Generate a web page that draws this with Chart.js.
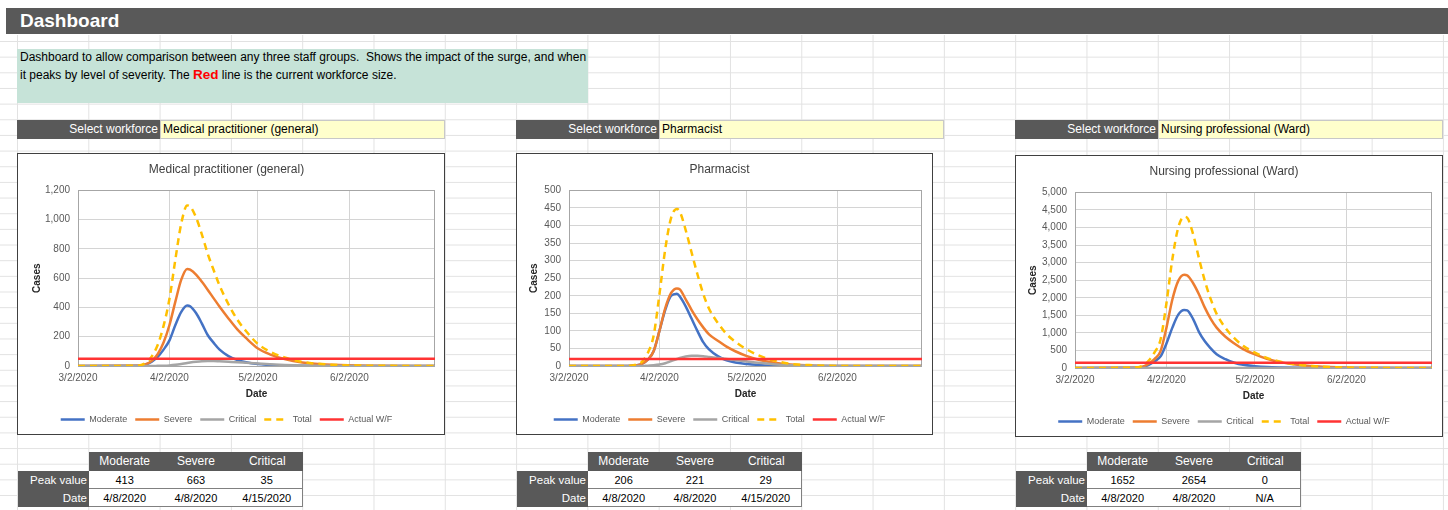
<!DOCTYPE html>
<html>
<head>
<meta charset="utf-8">
<script src="https://cdn.jsdelivr.net/npm/chart.js@4.4.1/dist/chart.umd.min.js"></script>
<style>
body { margin: 0; width: 1448px; height: 510px; overflow: hidden; background: #fff; position: relative;
       font-family: 'Liberation Sans', Arial, sans-serif; }
.sheet { position: absolute; left: 0; top: 35px; width: 1448px; height: 475px;
         background-image: linear-gradient(to right, #e2e2e2 1px, transparent 1px),
                           linear-gradient(to bottom, #e2e2e2 1px, transparent 1px);
         background-size: 71.3px 15.67px; background-position: 17px 6px; }
.header { position: absolute; left: 6px; top: 8px; width: 1442px; height: 26px; background: #595959;
          color: #fff; font-weight: bold; font-size: 19px; line-height: 26px; padding-left: 14px; box-sizing: border-box; }
.info { position: absolute; left: 17px; top: 49px; width: 571px; height: 54px; background: #c6e3d8;
        font-size: 12px; line-height: 17px; padding-left: 3px; box-sizing: border-box; color: #000; }
.info b { color: #ff0000; font-size: 13.5px; }
.sel { position: absolute; height: 19px; line-height: 19px; font-size: 12px; box-sizing: border-box; }
.sel.dark { width: 143px; background: #595959; color: #fff; text-align: right; padding-right: 2px; }
.sel.yellow { width: 285px; background: #ffffcc; border: 1px solid #c8c8c8; color: #000; padding-left: 2px; line-height: 17px; }
.box { position: absolute; border: 1px solid #404040; background: #fff; box-sizing: border-box; }
.box canvas { position: absolute; left: 0; top: 0; }
.cell { position: absolute; box-sizing: border-box; font-size: 11px; text-align: center; height: 18px; line-height: 18px; }
.cell.hd { background: #595959; color: #fff; font-size: 12px; height: 19px; line-height: 19px; }
.cell.lbl { background: #595959; color: #fff; text-align: right; padding-right: 2px; font-size: 11.5px; }
.cell.val { background: #fff; border-bottom: 1px solid #808080; color: #000; }
.cell.val.last { border-right: 1px solid #808080; }
</style>
</head>
<body>
<div class="sheet"></div>
<div class="header">Dashboard</div>
<div class="info">Dashboard to allow comparison between any three staff groups.&nbsp; Shows the impact of the surge, and when<br>it peaks by level of severity. The <b>Red</b> line is the current workforce size.</div>
<div id="panels"></div>

<script>
// sample days, counted from 3/2/2020
const days = [0, 20, 23, 25, 27, 29, 31, 33, 35, 37, 38, 40, 42, 44, 46, 48, 51, 54, 57, 61, 65, 70, 76, 84, 95, 121];
const lastDay = 121;
const tickDays = [0, 31, 61, 92];
const tickLabels = ['3/2/2020', '4/2/2020', '5/2/2020', '6/2/2020'];
const seriesNames = ['Moderate', 'Severe', 'Critical', 'Total', 'Actual W/F'];
const severityNames = ['Moderate', 'Severe', 'Critical'];
const workforces = ['Medical practitioner (general)', 'Pharmacist', 'Nursing professional (Ward)'];

// Medical practitioner (general)
const medModerate = [0, 1, 10, 30, 62, 112, 175, 280, 370, 413, 408, 362, 290, 210, 158, 112, 68, 41, 25, 13, 7, 3, 1, 0, 0, 0];
const medSevere   = [0, 1, 12, 35, 80, 160, 280, 440, 590, 663, 658, 625, 575, 520, 462, 405, 325, 250, 190, 120, 80, 48, 24, 10, 3, 0];
const medCritical = [0, 0, 0, 0, 1, 2, 4, 8, 14, 21, 24, 29, 33, 35, 34, 32, 29, 26, 22, 17, 12, 7, 3, 1, 0, 0];
const medTotal    = [0, 2, 22, 65, 143, 274, 459, 728, 974, 1097, 1090, 1016, 898, 765, 654, 549, 422, 317, 237, 150, 99, 58, 28, 11, 3, 0];
const medWorkforce = 50;

// Pharmacist
const phModerate = [0, 0, 2, 6, 18, 42, 100, 160, 200, 206, 198, 170, 135, 100, 68, 47, 28, 16, 10, 6, 3, 1, 0, 0, 0, 0];
const phSevere   = [0, 0, 2, 6, 18, 42, 100, 165, 208, 221, 218, 190, 160, 133, 110, 90, 72, 55, 42, 28, 18, 10, 4, 1, 0, 0];
const phCritical = [0, 0, 0, 0, 1, 2, 4, 8, 14, 20, 23, 27, 29, 29, 28, 26, 23, 20, 17, 13, 9, 5, 2, 1, 0, 0];
const phTotal    = [0, 0, 4, 12, 37, 86, 204, 333, 422, 447, 439, 387, 324, 262, 206, 163, 123, 91, 69, 47, 30, 16, 6, 2, 0, 0];
const phWorkforce = 20;

// Nursing professional (Ward)
const nuModerate = [0, 5, 30, 90, 190, 330, 700, 1150, 1520, 1652, 1640, 1400, 1030, 760, 560, 390, 250, 150, 90, 50, 25, 12, 4, 1, 0, 0];
const nuSevere   = [0, 5, 40, 120, 260, 480, 1150, 1950, 2480, 2654, 2640, 2420, 2100, 1720, 1400, 1150, 890, 700, 540, 390, 265, 160, 85, 35, 10, 0];
const nuCritical = [0, 0, 0, 0, 0, 0, 0, 0, 0, 0, 0, 0, 0, 0, 0, 0, 0, 0, 0, 0, 0, 0, 0, 0, 0, 0];
const nuTotal    = [0, 10, 70, 210, 450, 810, 1850, 3100, 4000, 4306, 4280, 3820, 3130, 2480, 1960, 1540, 1140, 850, 630, 440, 290, 172, 89, 36, 10, 0];
const nuWorkforce = 150;

// peak tables
const medPeakValues = ['413', '663', '35'];
const medPeakDates  = ['4/8/2020', '4/8/2020', '4/15/2020'];
const phPeakValues  = ['206', '221', '29'];
const phPeakDates   = ['4/8/2020', '4/8/2020', '4/15/2020'];
const nuPeakValues  = ['1652', '2654', '0'];
const nuPeakDates   = ['4/8/2020', '4/8/2020', 'N/A'];

const colors = ['#4472c4', '#ed7d31', '#a5a5a5', '#ffc000', '#ff3333'];
const FONT = "'Liberation Sans', Arial, sans-serif";

const panels = [
    {ox: 0,   boxX: 17,   boxY: 153, boxW: 428, boxH: 282, plotLeft: 60, padRight: 9, titleX: 13,
     series: [medModerate, medSevere, medCritical, medTotal], wf: medWorkforce, yMax: 1200, yStep: 200,
     peaks: medPeakValues, dates: medPeakDates, tableX: 89},
    {ox: 499, boxX: 516,  boxY: 153, boxW: 417, boxH: 282, plotLeft: 52, padRight: 10, titleX: 11,
     series: [phModerate, phSevere, phCritical, phTotal], wf: phWorkforce, yMax: 500, yStep: 50,
     peaks: phPeakValues, dates: phPeakDates, tableX: 588},
    {ox: 998, boxX: 1015, boxY: 155, boxW: 428, boxH: 282, plotLeft: 59, padRight: 10, titleX: 11,
     series: [nuModerate, nuSevere, nuCritical, nuTotal], wf: nuWorkforce, yMax: 5000, yStep: 500,
     peaks: nuPeakValues, dates: nuPeakDates, tableX: 1087}
];

const plotBorder = {
    id: 'plotBorder',
    beforeDatasetsDraw(chart) {
        const {ctx, chartArea: {left, top, width, height}} = chart;
        ctx.save();
        ctx.strokeStyle = '#a6a6a6';
        ctx.lineWidth = 1;
        ctx.strokeRect(Math.round(left) + 0.5, Math.round(top) + 0.5, Math.round(width) - 1, Math.round(height));
        ctx.restore();
    }
};

function addDiv(cls, x, y, w, text) {
    const d = document.createElement('div');
    d.className = cls;
    d.style.left = x + 'px';
    d.style.top = y + 'px';
    if (w) d.style.width = w + 'px';
    d.textContent = text;
    document.getElementById('panels').appendChild(d);
    return d;
}

panels.forEach((p, k) => {
    addDiv('sel dark', 17 + p.ox, 120, 0, 'Select workforce');
    addDiv('sel yellow', 160 + p.ox, 120, 0, workforces[k]);

    // peak table
    const colW = 71.3;
    severityNames.forEach((n, i) => addDiv('cell hd', p.tableX + i * colW, 452, colW, n));
    addDiv('cell lbl', p.tableX - colW, 471, colW, 'Peak value');
    addDiv('cell lbl', p.tableX - colW, 489, colW, 'Date');
    p.peaks.forEach((v, i) => addDiv('cell val' + (i == 2 ? ' last' : ''), p.tableX + i * colW, 471, colW, v));
    p.dates.forEach((v, i) => addDiv('cell val' + (i == 2 ? ' last' : ''), p.tableX + i * colW, 489, colW, v));

    const box = addDiv('box', p.boxX, p.boxY, p.boxW, '');
    box.style.height = p.boxH + 'px';
    const canvas = document.createElement('canvas');
    canvas.width = p.boxW - 2;
    canvas.height = p.boxH - 2;
    box.appendChild(canvas);

    const pts = vals => vals.map((v, i) => ({x: days[i], y: v}));
    const datasets = p.series.map((vals, i) => ({
        label: seriesNames[i],
        data: pts(vals),
        borderColor: colors[i],
        backgroundColor: colors[i],
        borderDash: i == 3 ? [7, 5] : [],
        order: 4 - i
    }));
    datasets.push({
        label: seriesNames[4],
        data: [{x: 0, y: p.wf}, {x: lastDay, y: p.wf}],
        borderColor: colors[4],
        backgroundColor: colors[4],
        borderDash: [],
        order: 0
    });

    new Chart(canvas, {
        type: 'line',
        plugins: [plotBorder],
        data: {datasets},
        options: {
            responsive: false,
            animation: false,
            devicePixelRatio: 1,
            layout: {padding: {left: 0, right: p.padRight, top: 0, bottom: 0}},
            elements: {
                point: {radius: 0},
                line: {borderWidth: 2.5, cubicInterpolationMode: 'monotone', fill: false}
            },
            plugins: {
                tooltip: {enabled: false},
                title: {
                    display: true,
                    text: workforces[k],
                    color: '#404040',
                    font: {family: FONT, size: 12, weight: 'normal'},
                    padding: {top: 8, bottom: 14}
                },
                legend: {
                    position: 'bottom',
                    labels: {
                        usePointStyle: true,
                        pointStyle: 'line',
                        pointStyleWidth: 24,
                        color: '#595959',
                        font: {family: FONT, size: 9},
                        padding: 8,
                        sort: (a, b) => a.datasetIndex - b.datasetIndex,
                        generateLabels: chart => Chart.defaults.plugins.legend.labels.generateLabels(chart).map(item => {
                            const ds = chart.data.datasets[item.datasetIndex];
                            item.strokeStyle = ds.borderColor;
                            item.fillStyle = ds.borderColor;
                            item.lineWidth = 2.5;
                            item.lineDash = ds.borderDash;
                            item.pointStyle = 'line';
                            return item;
                        })
                    }
                }
            },
            scales: {
                x: {
                    type: 'linear',
                    min: 0,
                    max: lastDay,
                    afterBuildTicks: s => { s.ticks = tickDays.map(v => ({value: v})); },
                    afterFit: s => { s.height = 41; },
                    ticks: {
                        color: '#595959',
                        font: {family: FONT, size: 10},
                        padding: 6,
                        maxRotation: 0,
                        callback: (v) => tickLabels[tickDays.indexOf(v)]
                    },
                    grid: {color: '#d4d4d4', drawTicks: false},
                    border: {display: false},
                    title: {
                        display: true, text: 'Date', color: '#262626',
                        font: {family: FONT, size: 10, weight: 'bold'},
                        padding: {top: 0, bottom: 7}
                    }
                },
                y: {
                    min: 0,
                    max: p.yMax,
                    afterFit: s => { s.width = p.plotLeft; },
                    ticks: {
                        stepSize: p.yStep,
                        color: '#595959',
                        font: {family: FONT, size: 10},
                        padding: 8
                    },
                    grid: {color: '#d4d4d4', drawTicks: false},
                    border: {display: false},
                    title: {
                        display: true, text: 'Cases', color: '#262626',
                        font: {family: FONT, size: 10, weight: 'bold'},
                        padding: {top: p.titleX, bottom: 0}
                    }
                }
            }
        }
    });
});
</script>
</body>
</html>
